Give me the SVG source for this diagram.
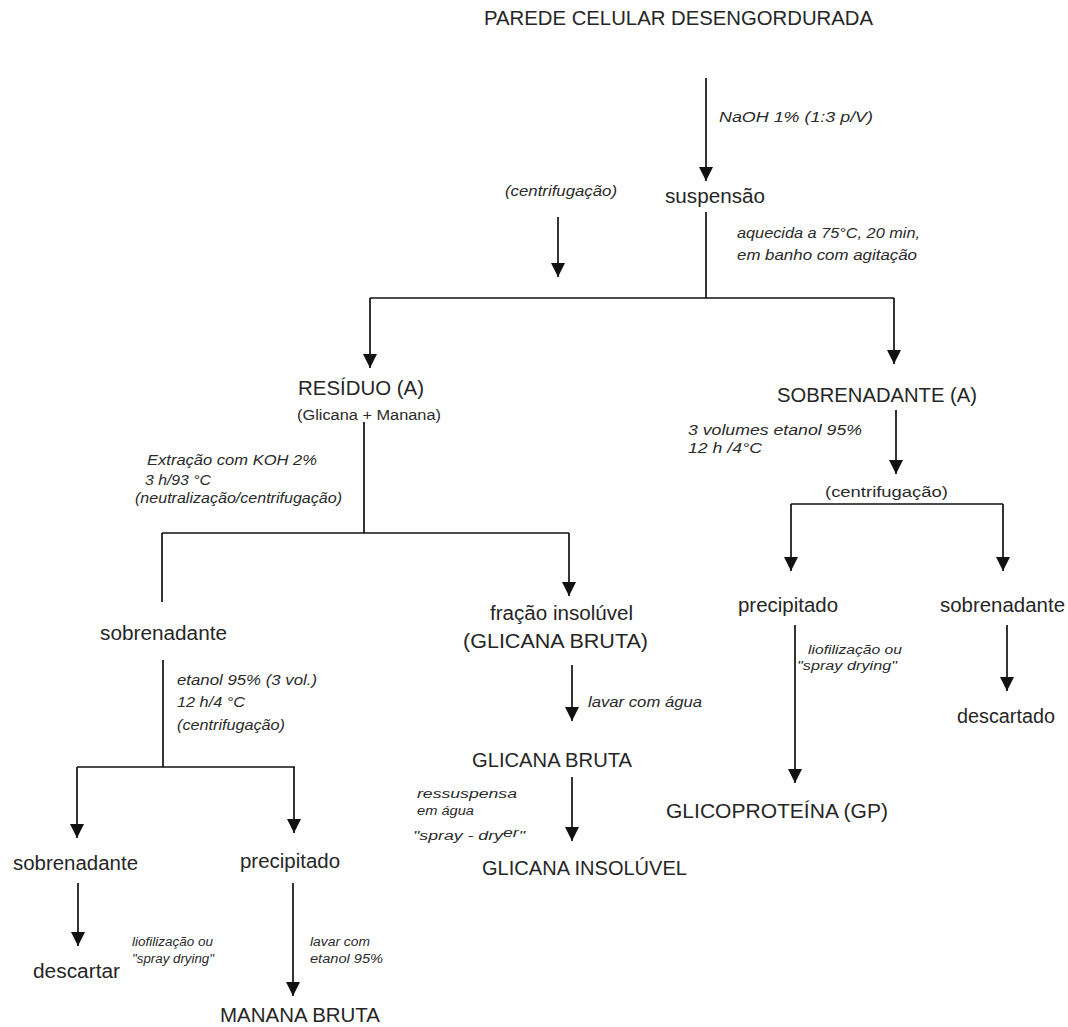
<svg xmlns="http://www.w3.org/2000/svg" width="1068" height="1027" viewBox="0 0 1068 1027">
  <style>
    .node { font-family: "Liberation Sans", Arial, sans-serif; font-size: 20px; fill: #262626; }
    .note { font-family: "Liberation Sans", Arial, sans-serif; font-size: 14px; font-style: italic; fill: #2a2a2a; }
    .tiny { font-family: "Liberation Sans", Arial, sans-serif; font-size: 12px; font-style: italic; fill: #2a2a2a; }
    .small { font-family: "Liberation Sans", Arial, sans-serif; font-size: 14px; fill: #2a2a2a; }
    .wire { stroke: #111; stroke-width: 1.7; fill: none; }
    .arrow { marker-end: url(#head); }
  </style>
  <defs>
    <marker id="head" markerUnits="userSpaceOnUse" markerWidth="14" markerHeight="14" refX="14" refY="7" orient="auto">
      <path d="M0,0 L14,7 L0,14 z" fill="#111"/>
    </marker>
  </defs>
  <rect width="1068" height="1027" fill="#fff"/>

  <!-- connectors -->
  <g id="connectors">
    <line class="wire arrow" x1="706" y1="78" x2="706" y2="181"/>
    <line class="wire arrow" x1="558" y1="217" x2="558" y2="277"/>
    <line class="wire" x1="706" y1="212" x2="706" y2="298"/>
    <line class="wire" x1="370" y1="298" x2="894" y2="298"/>
    <line class="wire arrow" x1="370" y1="298" x2="370" y2="368"/>
    <line class="wire arrow" x1="894" y1="298" x2="894" y2="364"/>

    <line class="wire" x1="364" y1="422" x2="364" y2="533"/>
    <line class="wire" x1="162" y1="533" x2="569" y2="533"/>
    <line class="wire" x1="162" y1="533" x2="162" y2="602"/>
    <line class="wire arrow" x1="569" y1="533" x2="569" y2="596"/>

    <line class="wire arrow" x1="896" y1="410" x2="896" y2="474"/>
    <line class="wire" x1="791" y1="504" x2="1003" y2="504"/>
    <line class="wire arrow" x1="791" y1="504" x2="791" y2="571"/>
    <line class="wire arrow" x1="1003" y1="504" x2="1003" y2="571"/>
    <line class="wire arrow" x1="795" y1="625" x2="795" y2="783"/>
    <line class="wire arrow" x1="1007" y1="625" x2="1007" y2="691"/>

    <line class="wire arrow" x1="572" y1="665" x2="572" y2="721"/>
    <line class="wire arrow" x1="572" y1="777" x2="572" y2="841"/>

    <line class="wire" x1="163" y1="660" x2="163" y2="767"/>
    <line class="wire" x1="77" y1="767" x2="295" y2="767"/>
    <line class="wire arrow" x1="77" y1="767" x2="77" y2="838"/>
    <line class="wire arrow" x1="294" y1="767" x2="294" y2="833"/>
    <line class="wire arrow" x1="78" y1="883" x2="78" y2="946"/>
    <line class="wire arrow" x1="293" y1="883" x2="293" y2="996"/>
  </g>

  <!-- step annotations -->
  <g id="notes">
    <text class="note" x="719" y="122" textLength="154" lengthAdjust="spacingAndGlyphs">NaOH 1% (1:3 p/V)</text>
    <text class="note" x="505" y="196" textLength="112" lengthAdjust="spacingAndGlyphs">(centrifugação)</text>
    <text class="note" x="737" y="238" textLength="183" lengthAdjust="spacingAndGlyphs">aquecida a 75°C, 20 min,</text>
    <text class="note" x="737" y="260" textLength="180" lengthAdjust="spacingAndGlyphs">em  banho com agitação</text>
    <text class="note" x="147" y="465" textLength="170" lengthAdjust="spacingAndGlyphs">Extração com KOH 2%</text>
    <text class="note" x="145" y="485" textLength="66" lengthAdjust="spacingAndGlyphs">3 h/93 °C</text>
    <text class="note" x="135" y="503" textLength="207" lengthAdjust="spacingAndGlyphs">(neutralização/centrifugação)</text>
    <text class="note" x="688" y="435" textLength="174" lengthAdjust="spacingAndGlyphs">3 volumes etanol 95%</text>
    <text class="note" x="688" y="453" textLength="74" lengthAdjust="spacingAndGlyphs">12 h /4°C</text>
    <text class="small" x="825" y="497" textLength="123" lengthAdjust="spacingAndGlyphs">(centrifugação)</text>
    <text class="tiny" x="808" y="654" textLength="94" lengthAdjust="spacingAndGlyphs">liofilização ou</text>
    <text class="tiny" x="797" y="670" textLength="100" lengthAdjust="spacingAndGlyphs">"spray drying"</text>
    <text class="note" x="588" y="707" textLength="114" lengthAdjust="spacingAndGlyphs">lavar com água</text>
    <text class="tiny" x="417" y="798" textLength="100" lengthAdjust="spacingAndGlyphs">ressuspensa</text>
    <text class="tiny" x="417" y="815" textLength="57" lengthAdjust="spacingAndGlyphs">em água</text>
    <text class="tiny" x="413" y="840" textLength="112" lengthAdjust="spacingAndGlyphs">"spray - dry<tspan dy="-3">er</tspan><tspan dy="3">"</tspan></text>
    <text class="note" x="177" y="685" textLength="140" lengthAdjust="spacingAndGlyphs">etanol 95%  (3 vol.)</text>
    <text class="note" x="177" y="707" textLength="68" lengthAdjust="spacingAndGlyphs">12 h/4 °C</text>
    <text class="note" x="177" y="730" textLength="108" lengthAdjust="spacingAndGlyphs">(centrifugação)</text>
    <text class="tiny" x="132" y="946" textLength="81" lengthAdjust="spacingAndGlyphs">liofilização ou</text>
    <text class="tiny" x="132" y="963" textLength="82" lengthAdjust="spacingAndGlyphs">"spray drying"</text>
    <text class="tiny" x="310" y="946" textLength="60" lengthAdjust="spacingAndGlyphs">lavar com</text>
    <text class="tiny" x="310" y="963" textLength="73" lengthAdjust="spacingAndGlyphs">etanol 95%</text>
  </g>

  <!-- nodes -->
  <g id="n-parede"><text class="node" x="484" y="25" textLength="389" lengthAdjust="spacingAndGlyphs">PAREDE CELULAR DESENGORDURADA</text></g>
  <g id="n-suspensao"><text class="node" x="665" y="203" textLength="100" lengthAdjust="spacingAndGlyphs">suspensão</text></g>
  <g id="n-residuo">
    <text class="node" x="298" y="395" textLength="126" lengthAdjust="spacingAndGlyphs">RESÍDUO (A)</text>
    <text class="small" x="297" y="420" textLength="144" lengthAdjust="spacingAndGlyphs">(Glicana + Manana)</text>
  </g>
  <g id="n-sobrenadante-a"><text class="node" x="777" y="402" textLength="200" lengthAdjust="spacingAndGlyphs">SOBRENADANTE (A)</text></g>
  <g id="n-sobrenadante-1"><text class="node" x="100" y="640" textLength="127" lengthAdjust="spacingAndGlyphs">sobrenadante</text></g>
  <g id="n-fracao">
    <text class="node" x="490" y="620" textLength="143" lengthAdjust="spacingAndGlyphs">fração insolúvel</text>
    <text class="node" x="463" y="648" textLength="185" lengthAdjust="spacingAndGlyphs">(GLICANA BRUTA)</text>
  </g>
  <g id="n-glicana-bruta"><text class="node" x="472" y="767" textLength="160" lengthAdjust="spacingAndGlyphs">GLICANA BRUTA</text></g>
  <g id="n-glicana-insoluvel"><text class="node" x="482" y="875" textLength="205" lengthAdjust="spacingAndGlyphs">GLICANA INSOLÚVEL</text></g>
  <g id="n-precipitado-gp"><text class="node" x="738" y="612" textLength="100" lengthAdjust="spacingAndGlyphs">precipitado</text></g>
  <g id="n-sobrenadante-2"><text class="node" x="940" y="612" textLength="125" lengthAdjust="spacingAndGlyphs">sobrenadante</text></g>
  <g id="n-glicoproteina"><text class="node" x="666" y="818" textLength="222" lengthAdjust="spacingAndGlyphs">GLICOPROTEÍNA (GP)</text></g>
  <g id="n-descartado"><text class="node" x="957" y="723" textLength="98" lengthAdjust="spacingAndGlyphs">descartado</text></g>
  <g id="n-sobrenadante-3"><text class="node" x="13" y="870" textLength="125" lengthAdjust="spacingAndGlyphs">sobrenadante</text></g>
  <g id="n-precipitado-m"><text class="node" x="240" y="868" textLength="100" lengthAdjust="spacingAndGlyphs">precipitado</text></g>
  <g id="n-descartar"><text class="node" x="33" y="978" textLength="87" lengthAdjust="spacingAndGlyphs">descartar</text></g>
  <g id="n-manana"><text class="node" x="220" y="1022" textLength="160" lengthAdjust="spacingAndGlyphs">MANANA BRUTA</text></g>
</svg>
